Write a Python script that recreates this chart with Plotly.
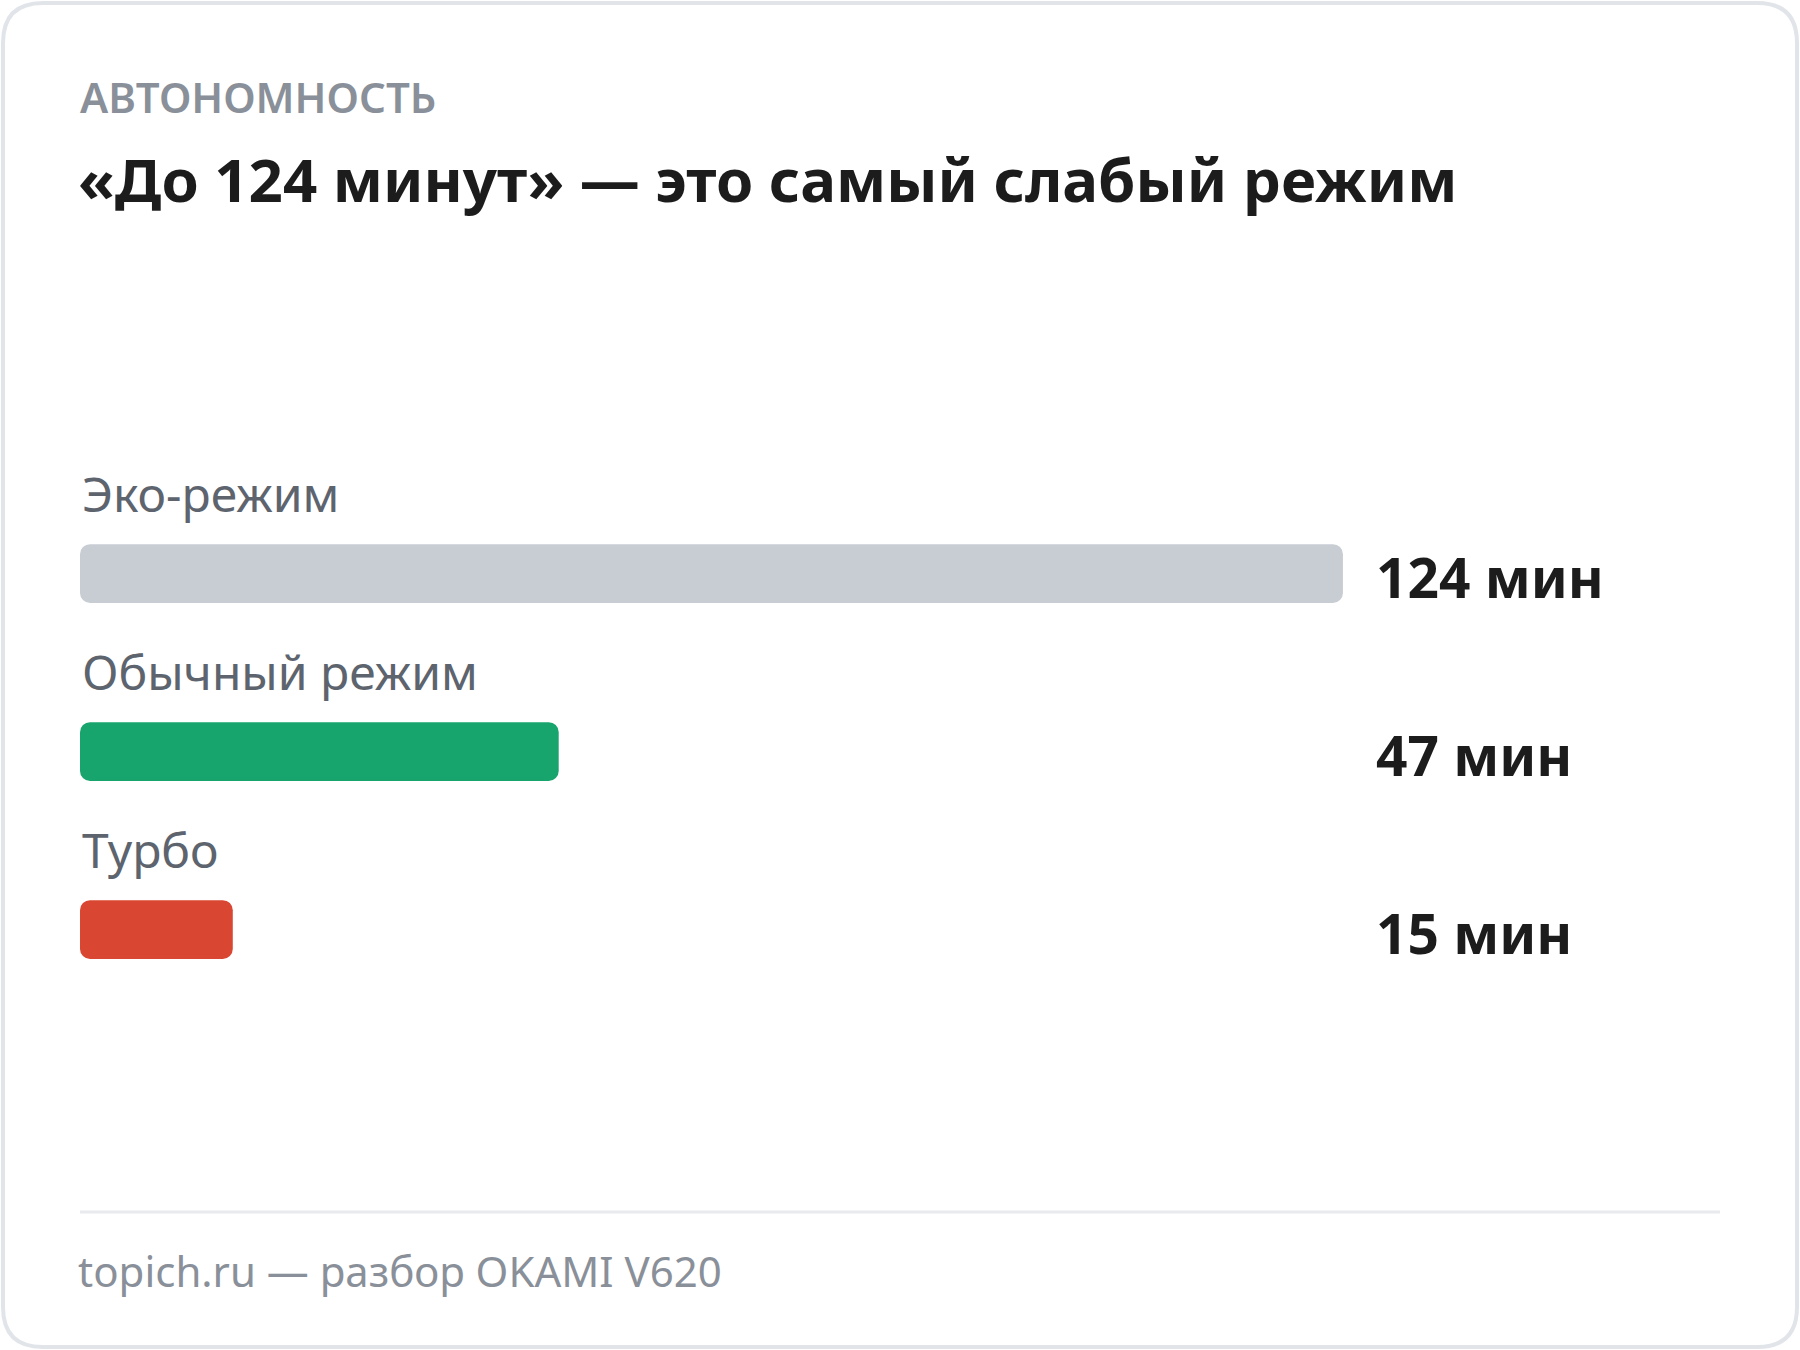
import plotly.graph_objects as go

# data
modes = ["Эко-режим", "Обычный режим", "Турбо"]
minutes = [124, 47, 15]
value_labels = ["124 мин", "47 мин", "15 мин"]
bar_colors = ["#c8cdd4", "#18a46d", "#d94631"]

eyebrow = "АВТОНОМНОСТЬ"
title = "«До 124 минут» — это самый слабый режим"
footer = "topich.ru — разбор OKAMI V620"

W, H = 1800, 1350
FONT = "Noto Sans"


def fx(p):
    return p / W


def fy(p):
    return 1 - p / H


rows = list(range(len(modes)))

fig = go.Figure()
# explicit base makes plotly round both ends of the bar
fig.add_trace(go.Bar(
    y=rows, x=minutes, base=[0] * len(minutes), orientation="h",
    marker=dict(color=bar_colors, cornerradius=10, line_width=0),
    width=0.33, text=modes, hoverinfo="text+x", textposition="none",
))

annotations = []
for i, (name, val) in enumerate(zip(modes, value_labels)):
    annotations.append(dict(
        x=0, xref="x", y=i, yref="y", xanchor="left", yanchor="middle",
        yshift=80, text=name, showarrow=False,
        font=dict(family=FONT, size=48, color="#5d646e"),
    ))
    annotations.append(dict(
        x=fx(1374), xref="paper", y=i, yref="y", xanchor="left", yanchor="middle",
        yshift=-3, text=val, showarrow=False,
        font=dict(family=FONT, size=55, color="#1c1c1c", weight=700),
    ))

annotations += [
    dict(x=fx(78), y=fy(96), xref="paper", yref="paper", xanchor="left",
         yanchor="middle", text=eyebrow, showarrow=False,
         font=dict(family=FONT, size=42, color="#8a9099", weight=600)),
    dict(x=fx(76), y=fy(179), xref="paper", yref="paper", xanchor="left",
         yanchor="middle", text=title, showarrow=False,
         font=dict(family=FONT, size=60, color="#1c1c1c", weight=700)),
    dict(x=fx(76), y=fy(1270), xref="paper", yref="paper", xanchor="left",
         yanchor="middle", text=footer, showarrow=False,
         font=dict(family=FONT, size=42, color="#8a9099")),
]

# card outline with rounded corners
r = 40
x0, x1, y0, y1 = 3, W - 3, 3, H - 3
card = (
    f"M {fx(x0 + r)} {fy(y0)} L {fx(x1 - r)} {fy(y0)} "
    f"Q {fx(x1)} {fy(y0)} {fx(x1)} {fy(y0 + r)} L {fx(x1)} {fy(y1 - r)} "
    f"Q {fx(x1)} {fy(y1)} {fx(x1 - r)} {fy(y1)} L {fx(x0 + r)} {fy(y1)} "
    f"Q {fx(x0)} {fy(y1)} {fx(x0)} {fy(y1 - r)} L {fx(x0)} {fy(y0 + r)} "
    f"Q {fx(x0)} {fy(y0)} {fx(x0 + r)} {fy(y0)} Z"
)

shapes = [
    dict(type="path", path=card, xref="paper", yref="paper",
         line=dict(color="#e1e4e9", width=4), layer="below"),
    dict(type="line", x0=fx(80), x1=fx(1720), y0=fy(1212), y1=fy(1212),
         xref="paper", yref="paper", line=dict(color="#e8eaee", width=3)),
]

fig.update_layout(
    width=W, height=H,
    margin=dict(l=0, r=0, t=0, b=0),
    paper_bgcolor="white", plot_bgcolor="rgba(0,0,0,0)",
    showlegend=False,
    xaxis=dict(domain=[fx(80), fx(1720)], range=[0, 1640 / 10.185],
               visible=False, fixedrange=True),
    yaxis=dict(domain=[0, 1], range=[4.362, -3.222], visible=False,
               fixedrange=True),
    annotations=annotations, shapes=shapes,
)

fig.write_html(
    "out.html",
    config={"displayModeBar": False},
    post_script="document.body.style.margin='0';document.body.style.overflow='hidden';",
)
